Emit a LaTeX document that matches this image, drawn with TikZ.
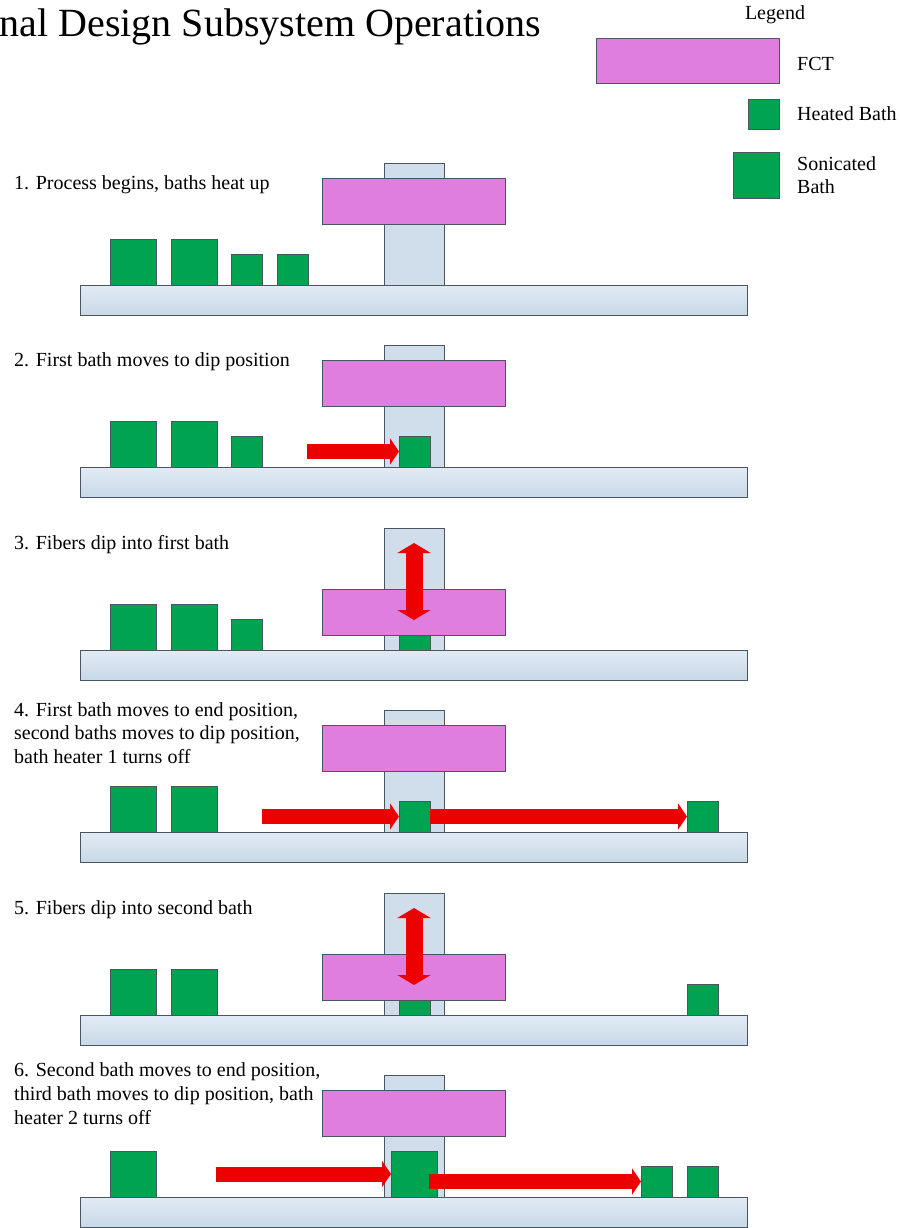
\documentclass[tikz,border=0pt]{standalone}
\usepackage{fontspec}
\setmainfont{Liberation Serif}
\usetikzlibrary{arrows.meta}
\definecolor{edge}{RGB}{75,85,95}
\definecolor{bartopc}{RGB}{226,235,245}
\definecolor{barbotc}{RGB}{200,216,232}
\definecolor{colfill}{RGB}{208,222,236}
\definecolor{fctfill}{RGB}{224,126,224}
\definecolor{bathfill}{RGB}{0,163,80}
\definecolor{mvred}{RGB}{236,0,0}
\newcommand\rectnode[6]{\node[#1,minimum width={(#5-#3)*1pt},minimum height={(#6-#4)*1pt}] (#2) at ({(#3+#5)/2},{(#4+#6)/2}) {};}
\begin{document}
\begin{tikzpicture}[x=1pt,y=-1pt,
  shp/.style={inner sep=0pt,outer sep=0pt,line width=0.8pt,draw=edge},
  bar/.style={shp,top color=bartopc,bottom color=barbotc},
  col/.style={shp,fill=colfill},
  fct/.style={shp,fill=fctfill},
  bath/.style={shp,fill=bathfill},
  mv/.style={draw=mvred,line width=15pt,-{Triangle[length=9pt,width=26pt]}},
  updown/.style={draw=mvred,line width=17pt,{Triangle[length=10pt,width=33pt]}-{Triangle[length=10pt,width=33pt]}},
  lbl/.style={font=\fontsize{20}{23.5}\selectfont,align=left,anchor=west,inner sep=0pt},
  leg/.style={font=\fontsize{20}{23}\selectfont,align=left,inner sep=0pt}]
\useasboundingbox (0,0) rectangle (899,1228);
\clip (0,0) rectangle (899,1228);
\fill[white] (0,0) rectangle (899,1228);
% title
\node[font=\fontsize{40}{46}\selectfont,anchor=base east,inner sep=0pt] (title) at (541,37) {Final Design Subsystem Operations};
% legend
\node[leg] (legtitle) at (775,15) {Legend};
\rectnode{fct}{lfct}{596}{38}{779}{83}
\rectnode{bath}{lheat}{748}{99}{779}{129}
\rectnode{bath}{lson}{733}{152}{779}{198}
\node[leg,anchor=west] (lfcttxt) at (797,64) {FCT};
\node[leg,anchor=west] (lheattxt) at (797,114) {Heated Bath};
\node[leg,anchor=west] (lsontxt) at (797,175) {Sonicated\\Bath};
% panel 1
\node[lbl] (t1) at (14,185) {1. Process begins, baths heat up};
\rectnode{bar}{bar1}{80}{285}{747}{315}
\rectnode{col}{col1}{384}{163}{444}{285}
\rectnode{bath}{s1a}{110}{239}{156}{285}
\rectnode{bath}{s1b}{171}{239}{217}{285}
\rectnode{bath}{h1a}{231}{254}{262}{285}
\rectnode{bath}{h1b}{277}{254}{308}{285}
\rectnode{fct}{fct1}{322}{178}{505}{224}
% panel 2
\node[lbl] (t2) at (14,362) {2. First bath moves to dip position};
\rectnode{bar}{bar2}{80}{467}{747}{497}
\rectnode{col}{col2}{384}{345}{444}{467}
\rectnode{bath}{s2a}{110}{421}{156}{467}
\rectnode{bath}{s2b}{171}{421}{217}{467}
\rectnode{bath}{h2a}{231}{436}{262}{467}
\rectnode{bath}{h2b}{399}{436}{430}{467}
\rectnode{fct}{fct2}{322}{360}{505}{406}
\coordinate (a2s) at (307,451.5);
\draw[mv] (a2s) -- (h2b.west);
% panel 3
\node[lbl] (t3) at (14,545) {3. Fibers dip into first bath};
\rectnode{bar}{bar3}{80}{650}{747}{680}
\rectnode{col}{col3}{384}{528}{444}{650}
\rectnode{bath}{s3a}{110}{604}{156}{650}
\rectnode{bath}{s3b}{171}{604}{217}{650}
\rectnode{bath}{h3a}{231}{619}{262}{650}
\rectnode{bath}{h3b}{399}{619}{430}{650}
\rectnode{fct}{fct3}{322}{589}{505}{635}
\coordinate (d3t) at (414,543);
\coordinate (d3b) at (414,620);
\draw[updown] (d3t) -- (d3b);
% panel 4
\node[lbl] (t4) at (14,733) {4. First bath moves to end position,\\second baths moves to dip position,\\bath heater 1 turns off};
\rectnode{bar}{bar4}{80}{832}{747}{862}
\rectnode{col}{col4}{384}{710}{444}{832}
\rectnode{bath}{s4a}{110}{786}{156}{832}
\rectnode{bath}{s4b}{171}{786}{217}{832}
\rectnode{bath}{h4a}{399}{801}{430}{832}
\rectnode{bath}{h4b}{687}{801}{718}{832}
\rectnode{fct}{fct4}{322}{725}{505}{771}
\coordinate (a4s) at (262,816.5);
\draw[mv] (a4s) -- (h4a.west);
\draw[mv] (h4a.east) -- (h4b.west);
% panel 5
\node[lbl] (t5) at (14,910) {5. Fibers dip into second bath};
\rectnode{bar}{bar5}{80}{1015}{747}{1045}
\rectnode{col}{col5}{384}{893}{444}{1015}
\rectnode{bath}{s5a}{110}{969}{156}{1015}
\rectnode{bath}{s5b}{171}{969}{217}{1015}
\rectnode{bath}{h5a}{399}{984}{430}{1015}
\rectnode{bath}{h5b}{687}{984}{718}{1015}
\rectnode{fct}{fct5}{322}{954}{505}{1000}
\coordinate (d5t) at (414,908);
\coordinate (d5b) at (414,985);
\draw[updown] (d5t) -- (d5b);
% panel 6
\node[lbl,font=\fontsize{20}{24}\selectfont] (t6) at (14,1094) {6. Second bath moves to end position,\\third bath moves to dip position, bath\\heater 2 turns off};
\rectnode{bar}{bar6}{80}{1197}{747}{1227}
\rectnode{col}{col6}{384}{1075}{444}{1197}
\rectnode{bath}{s6a}{110}{1151}{156}{1197}
\rectnode{bath}{s6b}{391}{1151}{437}{1197}
\rectnode{bath}{h6a}{641}{1166}{672}{1197}
\rectnode{bath}{h6b}{687}{1166}{718}{1197}
\rectnode{fct}{fct6}{322}{1090}{505}{1136}
\coordinate (a6s) at (216,1174);
\draw[mv] (a6s) -- (a6s -| s6b.west);
\coordinate (a6m) at (429,1181.5);
\draw[mv] (a6m) -- (h6a.west);
\end{tikzpicture}
\end{document}
